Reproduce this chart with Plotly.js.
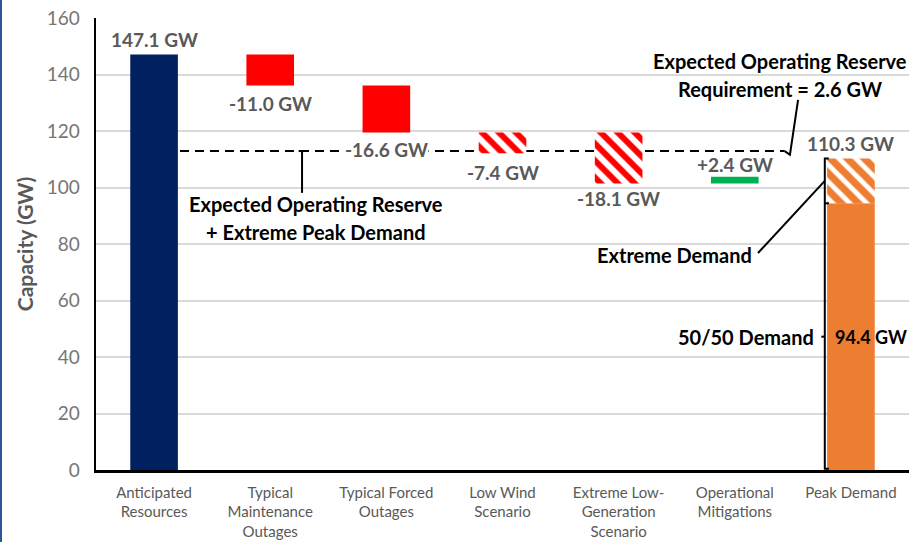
<!DOCTYPE html>
<html>
<head>
<meta charset="utf-8">
<script src="https://cdn.plot.ly/plotly-3.0.1.min.js"></script>
<style>
  html, body { margin:0; padding:0; background:#ffffff; overflow:hidden; }
  #chart { position:absolute; left:0; top:0; width:911px; height:542px; }
  #edge { position:absolute; left:0; top:0; width:2px; height:542px; background:#2e5597; }
</style>
</head>
<body>
<div id="chart"></div>
<div id="edge"></div>
<script>
// ---- data ----
const categories = [
  "Anticipated<br>Resources",
  "Typical<br>Maintenance<br>Outages",
  "Typical Forced<br>Outages",
  "Low Wind<br>Scenario",
  "Extreme Low-<br>Generation<br>Scenario",
  "Operational<br>Mitigations",
  "Peak Demand"
];
const anticipatedResources = 147.1;          // GW
const maintenanceOutages = -11.0;            // GW
const forcedOutages = -16.6;                 // GW
const lowWind = -7.4;                        // GW
const extremeLowGeneration = -18.1;          // GW
const operationalMitigations = 2.4;          // GW
const peakDemand5050 = 94.4;                 // GW
const peakDemandExtreme = 110.3;             // GW
const reserveRequirement = 2.6;              // GW
const yTicks = [0, 20, 40, 60, 80, 100, 120, 140, 160];

// ---- derived levels ----
const afterMaint = anticipatedResources + maintenanceOutages;
const afterForced = afterMaint + forcedOutages;
const afterExtreme = afterForced + extremeLowGeneration;
const reserveLine = peakDemandExtreme + reserveRequirement;

const FONT = "Lato, 'Open Sans', sans-serif";
const GRAY = "#595959";
const BW = 0.41;

const traces = [
  { type:"bar", x:[categories[0]], y:[anticipatedResources], base:[0], width:BW,
    marker:{color:"#002060", line:{width:0}}, hoverinfo:"skip" },
  { type:"bar", x:[categories[1], categories[2]], y:[maintenanceOutages, forcedOutages],
    base:[anticipatedResources, afterMaint], width:BW,
    marker:{color:"#ff0000", line:{width:0}}, hoverinfo:"skip" },
  { type:"bar", x:[categories[3], categories[4]], y:[lowWind, extremeLowGeneration],
    base:[afterForced, afterForced], width:BW,
    marker:{color:"#ffffff", line:{width:0},
      pattern:{shape:"\\", size:12, solidity:0.5, fgcolor:"#ff0000", bgcolor:"#ffffff", fillmode:"replace"}},
    hoverinfo:"skip" },
  { type:"bar", x:[categories[5]], y:[operationalMitigations], base:[afterExtreme], width:BW,
    marker:{color:"#00b050", line:{width:0}}, hoverinfo:"skip" },
  { type:"bar", x:[categories[6]], y:[peakDemand5050], base:[0], width:BW,
    marker:{color:"#ed7d31", line:{width:0}}, hoverinfo:"skip" },
  { type:"bar", x:[categories[6]], y:[peakDemandExtreme - peakDemand5050], base:[peakDemand5050], width:BW,
    marker:{color:"#ffffff", line:{width:0},
      pattern:{shape:"\\", size:12, solidity:0.6, fgcolor:"#ed7d31", bgcolor:"#ffffff", fillmode:"replace"}},
    hoverinfo:"skip" }
];

function fmt(v, sign) { return (sign && v > 0 ? "+" : "") + v.toFixed(1) + " GW"; }

const valFont = {family:FONT, size:19, color:GRAY};
const blkFont = {family:FONT, size:20, color:"#000000"};
const blkSmall = {family:FONT, size:18, color:"#000000"};

function lab(x, y, text, yanchor, yshift, font, xanchor, bg) {
  const a = {x:x, y:y, xref:"x", yref:"y", text:text, showarrow:false,
    xanchor:xanchor || "center", yanchor:yanchor, yshift:yshift || 0, font:font || valFont};
  if (bg) { a.bgcolor = "#ffffff"; a.borderpad = 0; }
  return a;
}

const annotations = [
  lab(0, anticipatedResources, "<b>" + fmt(anticipatedResources) + "</b>", "bottom", 1),
  lab(1, afterMaint, "<b>" + fmt(maintenanceOutages, true) + "</b>", "top", -4),
  lab(2, afterForced, "<b>" + fmt(forcedOutages, true) + "</b>", "top", -5, null, null, true),
  lab(3, afterForced + lowWind, "<b>" + fmt(lowWind, true) + "</b>", "top", -6),
  lab(4, afterExtreme, "<b>" + fmt(extremeLowGeneration, true) + "</b>", "top", -1),
  lab(5, afterExtreme + operationalMitigations, "<b>" + fmt(operationalMitigations, true) + "</b>", "bottom", -1),
  lab(6, peakDemandExtreme, "<b>" + fmt(peakDemandExtreme) + "</b>", "bottom", 1),
  lab(5.389, 144.8, "<b>Expected Operating Reserve</b>", "middle", 0, blkFont),
  lab(5.389, 134.9, "<b>Requirement = " + reserveRequirement.toFixed(1) + " GW</b>", "middle", 0, blkFont),
  lab(1.394, 94.2, "<b>Expected Operating Reserve</b>", "middle", 0, blkFont),
  lab(1.394, 84.2, "<b>+ Extreme Peak Demand</b>", "middle", 0, blkFont),
  lab(4.485, 76.1, "<b>Extreme Demand</b>", "middle", 0, blkFont),
  lab(5.70, peakDemand5050 / 2, "<b>50/50 Demand</b>", "middle", 0, blkFont, "right"),
  lab(5.845, peakDemand5050 / 2, "<b>" + fmt(peakDemand5050) + "</b>", "middle", 0, blkSmall, "left")
];

const blk = {color:"#000000", width:2};
const shapes = [
  // dashed reserve + extreme demand line
  {type:"line", xref:"x", yref:"y", x0:0.223, x1:5.43, y0:reserveLine, y1:reserveLine,
   line:{color:"#000000", width:2, dash:"9px,6px"}, layer:"below"},
  // leader from requirement text
  {type:"path", xref:"x", yref:"y", path:"M 5.545,131 L 5.475,111.6 L 5.43,112.9", line:blk},
  // leader from lower-left text
  {type:"line", xref:"x", yref:"y", x0:1.274, x1:1.274, y0:reserveLine, y1:98.1, line:blk},
  {type:"line", xref:"x", yref:"y", x0:1.245, x1:1.303, y0:reserveLine, y1:reserveLine, line:blk},
  // demand bracket
  {type:"path", xref:"x", yref:"y",
   path:"M 5.81," + peakDemandExtreme + " L 5.775," + peakDemandExtreme + " L 5.775,0.4 L 5.81,0.4", line:blk},
  {type:"line", xref:"x", yref:"y", x0:5.775, x1:5.81, y0:peakDemand5050, y1:peakDemand5050, line:blk},
  {type:"line", xref:"x", yref:"y", x0:5.745, x1:5.775, y0:peakDemand5050/2, y1:peakDemand5050/2, line:blk},
  // extreme demand leader
  {type:"line", xref:"x", yref:"y", x0:5.20, y0:76.8, x1:5.775, y1:(peakDemand5050 + peakDemandExtreme)/2, line:blk}
];

const layout = {
  width:911, height:542,
  margin:{l:96, r:2, t:18, b:72, autoexpand:false},
  paper_bgcolor:"#ffffff", plot_bgcolor:"#ffffff",
  barmode:"overlay", showlegend:false,
  font:{family:FONT, color:GRAY},
  xaxis:{type:"category", range:[-0.5, categories.length - 0.5], autorange:false,
    showgrid:false, zeroline:false, showline:true, linecolor:"#000000", linewidth:2.5,
    ticks:"", tickfont:{family:FONT, size:15, color:GRAY}, ticklabelstandoff:7, fixedrange:true},
  yaxis:{range:[0,160], autorange:false, tickvals:yTicks, showgrid:true, gridcolor:"#d9d9d9", gridwidth:2,
    zeroline:false, showline:true, linecolor:"#000000", linewidth:2.5, ticks:"",
    tickfont:{family:FONT, size:19, color:"#767676"}, ticklabelstandoff:10,
    title:{text:"<b>Capacity (GW)</b>", font:{family:FONT, size:21, color:GRAY}, standoff:8}, fixedrange:true},
  annotations:annotations, shapes:shapes
};

Plotly.newPlot("chart", traces, layout, {displayModeBar:false, staticPlot:true});
</script>
</body>
</html>
